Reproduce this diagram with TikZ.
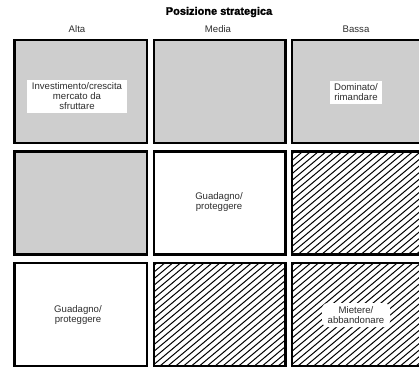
\documentclass[tikz,border=0pt]{standalone}
\usepackage{fontspec}
\setmainfont{Liberation Sans}
\newfontfamily\heavyfont[FakeBold=1.6]{Liberation Sans Bold}
\definecolor{cellgrey}{RGB}{206,206,206}
\definecolor{inkgrey}{RGB}{45,45,45}
\begin{document}
\begin{tikzpicture}[x=1pt,y=-1pt,
  cell/.style={draw=black, line width=2.6pt, inner sep=0pt, outer sep=0pt,
               minimum width=#1, minimum height=103pt},
  greycell/.style={cell=#1, fill=cellgrey},
  whitecell/.style={cell=#1, fill=white},
  hatchline/.style={line width=1pt, black},
  body/.style={font=\fontsize{9.6}{10}\selectfont, text=inkgrey, align=center, inner sep=0pt},
  tag/.style={body, fill=white, inner xsep=3pt, inner ysep=3pt},
  title/.style={font=\fontsize{11}{12}\heavyfont, inner sep=0pt},
  head/.style={font=\fontsize{9.6}{10}\selectfont, text=inkgrey, inner sep=0pt}
]
\useasboundingbox (0,0) rectangle (419,367);
\begin{scope}
\clip (0,0) rectangle (419,367);

% row 1
\node[greycell=132.5pt] (c11) at (80.75,91.5) {};
\node[greycell=131.5pt] (c12) at (219.75,91.5) {};
\node[greycell=138pt]   (c13) at (361,91.5) {};
% row 2
\node[greycell=132.5pt] (c21) at (80.75,203) {};
\node[whitecell=131.5pt] (c22) at (219.75,203) {};
\node[whitecell=138pt]   (c23) at (361,203) {};
% row 3
\node[whitecell=132.5pt] (c31) at (80.75,314.5) {};
\node[whitecell=131.5pt] (c32) at (219.75,314.5) {};
\node[whitecell=138pt]   (c33) at (361,314.5) {};

% diagonal hatching inside the three hatched cells
\foreach \c in {c23,c32,c33}{
  \begin{scope}
    \clip (\c.south west) rectangle (\c.north east);
    \foreach \k in {0,6.6,...,240}{
      \draw[hatchline] ([xshift=-5pt,yshift=-\k pt]\c.north west) -- ++(170,-142.6);
    }
  \end{scope}
  \draw[line width=2.6pt] (\c.south west) rectangle (\c.north east);
}
\end{scope}

% headings
\node[title] (ttl) at (219,12) {Posizione strategica};
\node[head] (hA) at (77,29) {Alta};
\node[head] (hM) at (218,29) {Media};
\node[head] (hB) at (356,29) {Bassa};

% cell labels
\node[tag, minimum width=100pt, minimum height=33pt] (t11) at (77,96.5)
  {Investimento/crescita\\mercato da\\sfruttare};
\node[tag, minimum width=52pt, minimum height=21pt] (t13) at (356,92.5)
  {Dominato/\\rimandare};
\node[body] (t22) at (219,202) {Guadagno/\\proteggere};
\node[body] (t31) at (78,315) {Guadagno/\\proteggere};
\node[tag, rounded corners=6pt, minimum width=68pt, minimum height=24pt] (t33) at (356,315)
  {Mietere/\\abbandonare};
\end{tikzpicture}
\end{document}
